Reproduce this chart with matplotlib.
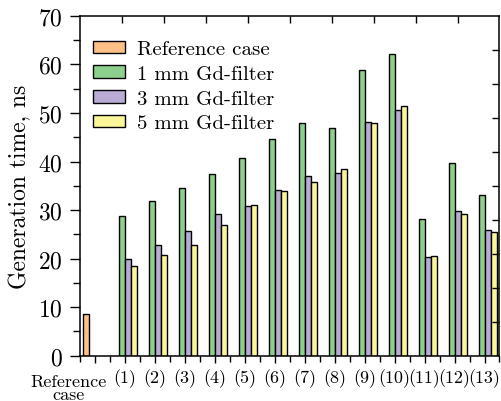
import numpy as np
import matplotlib.pyplot as plt
from matplotlib.ticker import MultipleLocator

# ==========================================
# Data
# ==========================================
GROUP_LABELS = ["", "(1)", "(2)", "(3)", "(4)", "(5)", "(6)", "(7)",
                "(8)", "(9)", "(10)", "(11)", "(12)", "(13)"]
REF_CASE = [8.6]
GD_1MM = [28.7, 31.8, 34.6, 37.4, 40.7, 44.7, 48.0, 46.9, 58.9, 62.2, 28.1, 39.6, 33.0]
GD_3MM = [20.0, 22.7, 25.6, 29.1, 30.9, 34.1, 37.1, 37.6, 48.2, 50.7, 20.3, 29.8, 25.8]
GD_5MM = [18.4, 20.8, 22.9, 26.9, 31.0, 33.9, 35.7, 38.5, 47.9, 51.5, 20.5, 29.2, 25.4]

SERIES_NAMES = ["Reference case", "1 mm Gd-filter", "3 mm Gd-filter", "5 mm Gd-filter"]
COLORS = ["#fdc086", "#8dcf8d", "#b9abd4", "#fbf799"]

plt.rcParams['font.family'] = 'serif'
plt.rcParams['font.serif'] = ['cmr10', 'DejaVu Serif']
plt.rcParams['axes.formatter.use_mathtext'] = True


def main():
    fig = plt.figure(figsize=(5.01, 4.02), dpi=100)
    ax = fig.add_axes([0.16, 0.1127, 0.837, 0.8453])

    w = 0.2
    x_ref = np.arange(len(REF_CASE))
    x_gd = np.arange(1, len(GD_1MM) + 1)
    bar_kw = dict(width=w, edgecolor='black', linewidth=1.0)

    ax.bar(x_ref - 1.5 * w, REF_CASE, color=COLORS[0], label=SERIES_NAMES[0], **bar_kw)
    ax.bar(x_gd - 0.5 * w, GD_1MM, color=COLORS[1], label=SERIES_NAMES[1], **bar_kw)
    ax.bar(x_gd + 0.5 * w, GD_3MM, color=COLORS[2], label=SERIES_NAMES[2], **bar_kw)
    ax.bar(x_gd + 1.5 * w, GD_5MM, color=COLORS[3], label=SERIES_NAMES[3], **bar_kw)

    ax.set_xlim(-0.5, 13.5)
    ax.set_ylim(0, 70)
    ax.set_xticks(np.arange(len(GROUP_LABELS)))
    ax.set_xticklabels(GROUP_LABELS, fontsize=13)
    ax.xaxis.set_minor_locator(MultipleLocator(0.5))
    ax.yaxis.set_major_locator(MultipleLocator(10))
    ax.yaxis.set_minor_locator(MultipleLocator(5))
    ax.tick_params(axis='y', which='major', direction='out', length=7, width=1.0,
                   labelsize=17, pad=5.5)
    ax.tick_params(axis='y', which='minor', direction='out', length=4.8, width=1.0)
    ax.tick_params(axis='x', which='major', direction='out', length=5, width=1.0, pad=4)
    ax.tick_params(axis='x', which='minor', direction='out', length=4, width=1.0)
    for sp in ax.spines.values():
        sp.set_linewidth(1.1)

    # two-line label for the reference group, sits left of its tick
    ax.text(-0.9, -0.052, "Reference\ncase", transform=ax.get_xaxis_transform(),
            ha='center', va='top', fontsize=13, linespacing=0.85)

    ax.set_ylabel("Generation time, ns", fontsize=17, labelpad=5)

    # inward ticks on top / right from an overlaid frame
    frame = fig.add_axes(ax.get_position(), frameon=False)
    frame.set_xlim(0, 10)
    frame.set_ylim(0, 10)
    frame.set_xticks(np.arange(1, 10))
    frame.set_yticks(np.arange(1, 10))
    frame.tick_params(bottom=False, left=False, labelbottom=False, labelleft=False,
                      top=True, right=True, direction='in', length=5, width=1.0)
    frame.patch.set_visible(False)

    ax.legend(loc='upper left', bbox_to_anchor=(0.011, 0.952), frameon=False,
              fontsize=15, handlelength=1.55, handleheight=0.55, labelspacing=0.32,
              handletextpad=0.55, borderaxespad=0.0, borderpad=0.4)

    fig.savefig("out.png", dpi=100)


if __name__ == "__main__":
    main()
